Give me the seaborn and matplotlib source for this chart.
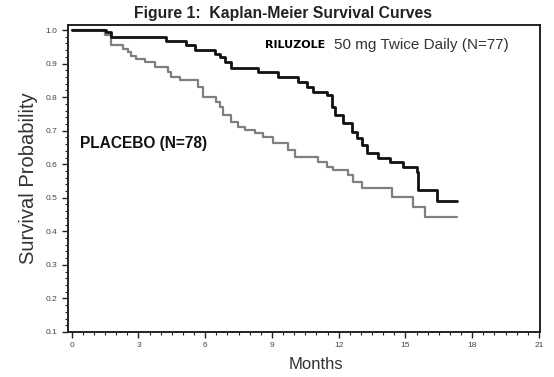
import numpy as np
import pandas as pd
import matplotlib
matplotlib.use("Agg")
import matplotlib.pyplot as plt
from matplotlib.ticker import MultipleLocator
import seaborn as sns

# step curves: (month, survival after the drop)
riluzole_months = [0.0, 1.54, 1.77, 4.24, 5.14, 5.54, 6.44, 6.67, 6.89, 7.16,
                   8.37, 9.27, 10.17, 10.58, 10.85, 11.47, 11.70, 11.83, 12.19,
                   12.60, 12.82, 13.05, 13.27, 13.77, 14.31, 14.89, 15.52,
                   15.56, 16.41, 17.32]
riluzole_surv = [1.0, 0.993, 0.979, 0.966, 0.956, 0.939, 0.929, 0.919, 0.904,
                 0.887, 0.875, 0.860, 0.845, 0.830, 0.815, 0.806, 0.770, 0.746,
                 0.723, 0.696, 0.678, 0.657, 0.634, 0.619, 0.607, 0.593, 0.578,
                 0.524, 0.489, 0.489]

placebo_months = [0.0, 1.50, 1.77, 2.31, 2.53, 2.67, 2.89, 3.30, 3.74, 4.33,
                  4.47, 4.87, 5.68, 5.90, 6.49, 6.67, 6.80, 7.16, 7.48, 7.79,
                  8.24, 8.60, 9.05, 9.72, 10.04, 11.07, 11.47, 11.74, 12.42,
                  12.64, 13.05, 14.40, 15.34, 15.88, 17.32]
placebo_surv = [1.0, 0.984, 0.954, 0.944, 0.934, 0.924, 0.915, 0.904, 0.890,
                0.875, 0.860, 0.850, 0.830, 0.801, 0.786, 0.771, 0.746, 0.726,
                0.712, 0.702, 0.693, 0.681, 0.663, 0.642, 0.622, 0.607, 0.592,
                0.582, 0.568, 0.547, 0.530, 0.503, 0.473, 0.444, 0.444]

x_ticks = [0, 3, 6, 9, 12, 15, 18, 21]
y_ticks = [0.1, 0.2, 0.3, 0.4, 0.5, 0.6, 0.7, 0.8, 0.9, 1.0]

sns.set_style("ticks")
plt.rcParams["font.family"] = ["Liberation Sans", "DejaVu Sans"]

df = pd.concat([
    pd.DataFrame({"months": placebo_months, "surv": placebo_surv, "group": "Placebo"}),
    pd.DataFrame({"months": riluzole_months, "surv": riluzole_surv, "group": "Riluzole"}),
], ignore_index=True)

fig = plt.figure(figsize=(5.54, 3.77), dpi=100)
ax = fig.add_axes([0.1227, 0.1194, 0.852, 0.8143])

sns.lineplot(data=df[df.group == "Placebo"], x="months", y="surv", ax=ax,
             color="#7f7f7f", linewidth=1.6, drawstyle="steps-post",
             estimator=None, sort=False)
sns.lineplot(data=df[df.group == "Riluzole"], x="months", y="surv", ax=ax,
             color="#111111", linewidth=2.0, drawstyle="steps-post",
             estimator=None, sort=False)

ax.set_xlim(-0.17, 21.05)
ax.set_ylim(0.1, 1.015)
ax.set_xticks(x_ticks)
ax.set_yticks(y_ticks)
ax.set_xticklabels([str(t) for t in x_ticks])
ax.set_yticklabels([f"{t:.1f}" for t in y_ticks])
ax.xaxis.set_minor_locator(MultipleLocator(0.5))
ax.yaxis.set_minor_locator(MultipleLocator(0.02))
ax.tick_params(axis="both", which="major", labelsize=6, length=4, width=1,
               colors="#222222", labelcolor="#444444")
ax.tick_params(axis="both", which="minor", length=2, width=0.8, colors="#222222")
for s in ax.spines.values():
    s.set_linewidth(1.4)
    s.set_color("#222222")

ax.set_xlabel("Months", fontsize=12, color="#333333")
ax.set_ylabel("Survival Probability", fontsize=14.5, color="#333333")
ax.xaxis.set_label_coords(0.525, -0.081)
ax.yaxis.set_label_coords(-0.064, 0.5)

fig.text(0.511, 0.963, "Figure 1:  Kaplan-Meier Survival Curves", ha="center",
         va="center", fontsize=11.3, fontweight="bold", color="#222222")

ax.text(0.417, 0.935, "RILUZOLE", transform=ax.transAxes, fontsize=8,
        fontweight="bold", family="DejaVu Sans", color="black", va="center")
ax.text(0.5636, 0.935, "50 mg Twice Daily (N=77)", transform=ax.transAxes,
        fontsize=11, color="#333333", va="center")
ax.text(0.025, 0.615, "PLACEBO (N=78)", transform=ax.transAxes, fontsize=11.2,
        fontweight="bold", color="#111111", va="center")

fig.savefig("out.png", dpi=100)
